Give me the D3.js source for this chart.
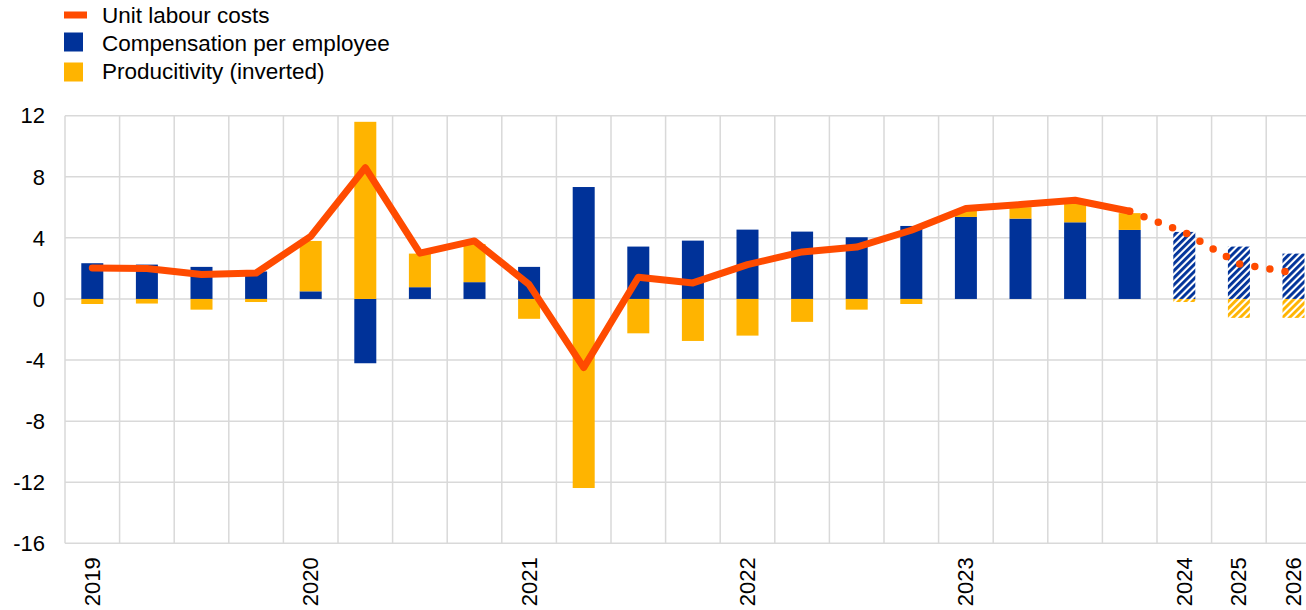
<!DOCTYPE html>
<html>
<head>
<meta charset="utf-8">
<script src="https://cdn.jsdelivr.net/npm/d3@7"></script>
<style>
  html, body { margin: 0; padding: 0; background: #fff; }
  svg { display: block; font-family: "Liberation Sans", Arial, sans-serif; }
</style>
</head>
<body>
<svg id="chart" width="1306" height="610"></svg>
<script>
// ---- data ----
const categories = [
  "2019Q1","2019Q2","2019Q3","2019Q4",
  "2020Q1","2020Q2","2020Q3","2020Q4",
  "2021Q1","2021Q2","2021Q3","2021Q4",
  "2022Q1","2022Q2","2022Q3","2022Q4",
  "2023Q1","2023Q2","2023Q3","2023Q4",
  "2024","2025","2026"
];
const tickLabels = {
  "2019Q1": "2019", "2020Q1": "2020", "2021Q1": "2021", "2022Q1": "2022",
  "2023Q1": "2023", "2024": "2024", "2025": "2025", "2026": "2026"
};
const compensation = [2.34, 2.25, 2.1, 1.8, 0.5, -4.21, 0.77, 1.1, 2.1, 7.33, 3.43, 3.82,
  4.54, 4.41, 4.04, 4.78, 5.37, 5.26, 5.02, 4.52, 4.39, 3.43, 2.97];
const productivityInv = [-0.33, -0.3, -0.7, -0.2, 3.3, 11.6, 2.2, 2.5, -1.3, -12.38, -2.25, -2.75,
  -2.4, -1.5, -0.7, -0.33, 0.45, 0.75, 1.3, 1.1, -0.2, -1.24, -1.24];
const unitLabourCosts = [2.03, 2.0, 1.6, 1.7, 4.1, 8.6, 3.0, 3.8, 0.94, -4.5, 1.42, 1.05,
  2.25, 3.08, 3.4, 4.5, 5.92, 6.18, 6.46, 5.74, 4.37, 2.3, 1.7];
const projectionStart = "2024";          // categories from here are projections
const yTicks = [12, 8, 4, 0, -4, -8, -12, -16];
const legendItems = ["Unit labour costs", "Compensation per employee", "Producitivity (inverted)"];

// ---- styles ----
const COL_BLUE = "#003299", COL_YELLOW = "#ffb400", COL_LINE = "#ff4b00", COL_GRID = "#d9d9d9";
const FONT = "22px";

const svg = d3.select("#chart");
const mLeft = 65, mTop = 115.7, mBottom = 543.3, bandW = 54.6;
const mRight = mLeft + bandW * categories.length;

const x = d3.scaleBand().domain(categories).range([mLeft, mRight]).paddingInner(0).paddingOuter(0);
const y = d3.scaleLinear().domain([-16, 12]).range([mBottom, mTop]);

// patterns
const defs = svg.append("defs");
function hatch(id, color) {
  const p = defs.append("pattern").attr("id", id).attr("patternUnits", "userSpaceOnUse")
    .attr("width", 5).attr("height", 5).attr("patternTransform", "rotate(45)");
  p.append("rect").attr("width", 5).attr("height", 5).attr("fill", "#fff");
  p.append("rect").attr("width", 2.9).attr("height", 5).attr("fill", color);
}
hatch("hatchBlue", COL_BLUE);
hatch("hatchYellow", COL_YELLOW);

// grid
const grid = svg.append("g");
grid.selectAll("line.h").data(yTicks).enter().append("line")
  .attr("x1", mLeft).attr("x2", mRight).attr("y1", d => y(d)).attr("y2", d => y(d))
  .attr("stroke", COL_GRID).attr("stroke-width", 1.5);
grid.selectAll("line.v").data(categories).enter().append("line")
  .attr("x1", d => x(d)).attr("x2", d => x(d)).attr("y1", mTop).attr("y2", mBottom)
  .attr("stroke", COL_GRID).attr("stroke-width", 1.5);

// y axis labels
const yAxis = d3.axisLeft(y).tickValues(yTicks).tickSize(0).tickPadding(0).tickFormat(d => String(d));
const gy = svg.append("g").attr("transform", `translate(45,0)`).call(yAxis);
gy.select(".domain").remove();
gy.selectAll("text").attr("font-size", FONT).attr("font-family", "Liberation Sans, Arial, sans-serif")
  .attr("fill", "#000").attr("dy", "0.33em");

// x axis labels
const xAxis = d3.axisBottom(x).tickValues(Object.keys(tickLabels)).tickSize(0)
  .tickFormat(d => tickLabels[d]);
const gx = svg.append("g").attr("transform", `translate(0,${mBottom})`).call(xAxis);
gx.select(".domain").remove();
gx.selectAll("text").attr("font-size", "22px").attr("font-family", "Liberation Sans, Arial, sans-serif")
  .attr("fill", "#000")
  .attr("text-anchor", "end")
  .attr("transform", "translate(7.5,14) rotate(-90)")
  .attr("x", 0).attr("y", 0).attr("dy", 0);

// bars (diverging stack)
const rows = categories.map((c, i) => ({ cat: c, comp: compensation[i], prod: productivityInv[i] }));
const stack = d3.stack().keys(["comp", "prod"]).offset(d3.stackOffsetDiverging);
const series = stack(rows);
const projIdx = categories.indexOf(projectionStart);
const barW = 22;
const fills = { comp: [COL_BLUE, "url(#hatchBlue)"], prod: [COL_YELLOW, "url(#hatchYellow)"] };
series.forEach(s => {
  svg.append("g").selectAll("rect").data(s).enter().append("rect")
    .attr("x", (d, i) => x(categories[i]) + (bandW - barW) / 2)
    .attr("width", barW)
    .attr("y", d => y(Math.max(d[0], d[1])))
    .attr("height", d => Math.abs(y(d[0]) - y(d[1])))
    .attr("fill", (d, i) => i >= projIdx ? fills[s.key][1] : fills[s.key][0]);
});

// line
const pts = categories.map((c, i) => [x(c) + bandW / 2, y(unitLabourCosts[i])]);
const line = d3.line();
svg.append("path").attr("d", line(pts.slice(0, projIdx)))
  .attr("fill", "none").attr("stroke", COL_LINE).attr("stroke-width", 7)
  .attr("stroke-linejoin", "round").attr("stroke-linecap", "round");
svg.append("path").attr("d", line(pts.slice(projIdx - 1)))
  .attr("fill", "none").attr("stroke", COL_LINE).attr("stroke-width", 7.5)
  .attr("stroke-linecap", "round").attr("stroke-dasharray", "0 15.3");

// legend
const lg = svg.append("g");
const baselines = [22.7, 51, 79.3];
lg.append("rect").attr("x", 64).attr("y", 11.5).attr("width", 23).attr("height", 7).attr("fill", COL_LINE);
lg.append("rect").attr("x", 64).attr("y", 32.5).attr("width", 19).attr("height", 19).attr("fill", COL_BLUE);
lg.append("rect").attr("x", 64).attr("y", 62.5).attr("width", 19).attr("height", 19).attr("fill", COL_YELLOW);
lg.selectAll("text").data(legendItems).enter().append("text")
  .attr("x", 102).attr("y", (d, i) => baselines[i]).attr("font-size", "22.5px").attr("fill", "#000")
  .text(d => d);
</script>
</body>
</html>
